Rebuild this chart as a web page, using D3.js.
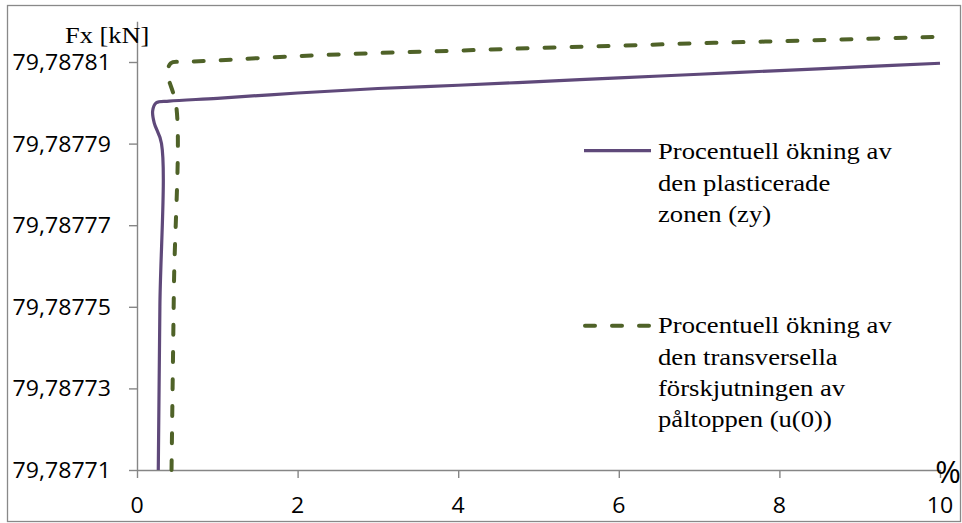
<!DOCTYPE html>
<html><head><meta charset="utf-8">
<script src="https://cdn.jsdelivr.net/npm/d3@7"></script>
<style>body{margin:0;background:#fff}</style>
</head><body><svg id="c" width="962" height="523"></svg>
<script>
// ---- data ----
const plastX = [0.265, 0.285, 0.305, 0.215, 0.195, 0.24, 0.4, 1, 2, 3, 4, 5, 6, 7, 8, 9, 10];
const plastY = [79.78771, 79.78775, 79.78779, 79.787795, 79.787798, 79.7878, 79.7878004, 79.7878011,
                79.7878024, 79.7878035, 79.7878043, 79.7878052, 79.7878061, 79.787807, 79.7878079,
                79.7878088, 79.7878097];
const transX = [0.43, 0.46, 0.49, 0.385, 0.42, 0.6, 1, 2, 3, 4, 5, 6, 7, 8, 9, 10];
const transY = [79.78771, 79.787755, 79.787799, 79.787807, 79.7878097, 79.78781, 79.7878104,
                79.78781145, 79.7878122, 79.7878128, 79.78781345, 79.787814, 79.7878146,
                79.7878151, 79.78781565, 79.7878162];
const xTicks = [0, 2, 4, 6, 8, 10];
const xTickLabels = ["0", "2", "4", "6", "8", "10"];
const yTicks = [79.78771, 79.78773, 79.78775, 79.78777, 79.78779, 79.78781];
const yTickLabels = ["79,78771", "79,78773", "79,78775", "79,78777", "79,78779", "79,78781"];
const legendPlast = ["Procentuell ökning av", "den plasticerade", "zonen (zy)"];
const legendTrans = ["Procentuell ökning av", "den transversella", "förskjutningen av", "påltoppen (u(0))"];
const yTitle = "Fx [kN]";
const xTitle = "%";

// ---- layout ----
const svg = d3.select("#c");
const axisColor = "#868686";
const purple = "#5f497a", green = "#4f6228";
const x = d3.scaleLinear().domain([0, 10]).range([137, 940]);
const y = d3.scaleLinear().domain([79.78771, 79.78782]).range([470, 21.2]);

svg.append("rect").attr("x", 7.5).attr("y", 5.5).attr("width", 953).attr("height", 516)
  .attr("fill", "#fff").attr("stroke", "#898989").attr("stroke-width", 1.3);

// axes
const gy = svg.append("g").attr("transform", "translate(137,0)")
  .call(d3.axisLeft(y).tickValues(yTicks).tickSize(8).tickSizeOuter(0).tickFormat(""));
const gx = svg.append("g").attr("transform", "translate(0,470)")
  .call(d3.axisBottom(x).tickValues(xTicks).tickSize(8).tickSizeOuter(0).tickFormat(""));
[gy, gx].forEach(g => {
  g.select(".domain").attr("stroke", axisColor).attr("stroke-width", 1.4);
  g.selectAll(".tick line").attr("stroke", axisColor).attr("stroke-width", 1.4);
});

// tick labels
const tickFont = "'Open Sans', sans-serif";
yTicks.forEach((v, i) => {
  svg.append("text").attr("transform", `translate(111,${y(v) + 8}) scale(1.05,1)`)
    .attr("text-anchor", "end").attr("font-family", tickFont).attr("font-size", 22)
    .attr("fill", "#000").text(yTickLabels[i]);
});
xTicks.forEach((v, i) => {
  svg.append("text").attr("transform", `translate(${x(v)},512.5) scale(1.05,1)`)
    .attr("text-anchor", "middle").attr("font-family", tickFont).attr("font-size", 22)
    .attr("fill", "#000").text(xTickLabels[i]);
});

// titles
svg.append("text").attr("transform", "translate(65,43) scale(1.1,1)")
  .attr("font-family", "'Liberation Serif', 'Times New Roman', serif").attr("font-size", 24)
  .text(yTitle);
svg.append("text").attr("x", 948).attr("y", 483).attr("text-anchor", "middle")
  .attr("font-family", tickFont).attr("font-size", 31).text(xTitle);

// series
const line = d3.line().x(d => x(d[0])).y(d => y(d[1])).curve(d3.curveCatmullRom.alpha(0.5));
const plast = plastX.map((v, i) => [v, plastY[i]]);
const trans = transX.map((v, i) => [v, transY[i]]);
svg.append("path").attr("d", line(trans)).attr("fill", "none").attr("stroke", green)
  .attr("stroke-width", 4).attr("stroke-dasharray", "10,17").attr("stroke-linecap", "round");
svg.append("path").attr("d", line(plast)).attr("fill", "none").attr("stroke", purple)
  .attr("stroke-width", 3.2);

// legend
const serif = "'Liberation Serif', 'Times New Roman', serif";
svg.append("line").attr("x1", 584).attr("x2", 651).attr("y1", 150.7).attr("y2", 150.7)
  .attr("stroke", purple).attr("stroke-width", 3.2);
legendPlast.forEach((t, i) => {
  svg.append("text").attr("transform", `translate(658,${159.3 + i * 31.2}) scale(1.11,1)`)
    .attr("font-family", serif).attr("font-size", 24).text(t);
});
svg.append("line").attr("x1", 585).attr("x2", 651).attr("y1", 325.7).attr("y2", 325.7)
  .attr("stroke", green).attr("stroke-width", 4).attr("stroke-dasharray", "10,17")
  .attr("stroke-linecap", "round");
legendTrans.forEach((t, i) => {
  svg.append("text").attr("transform", `translate(658,${333.3 + i * 31.2}) scale(1.11,1)`)
    .attr("font-family", serif).attr("font-size", 24).text(t);
});
</script></body></html>
